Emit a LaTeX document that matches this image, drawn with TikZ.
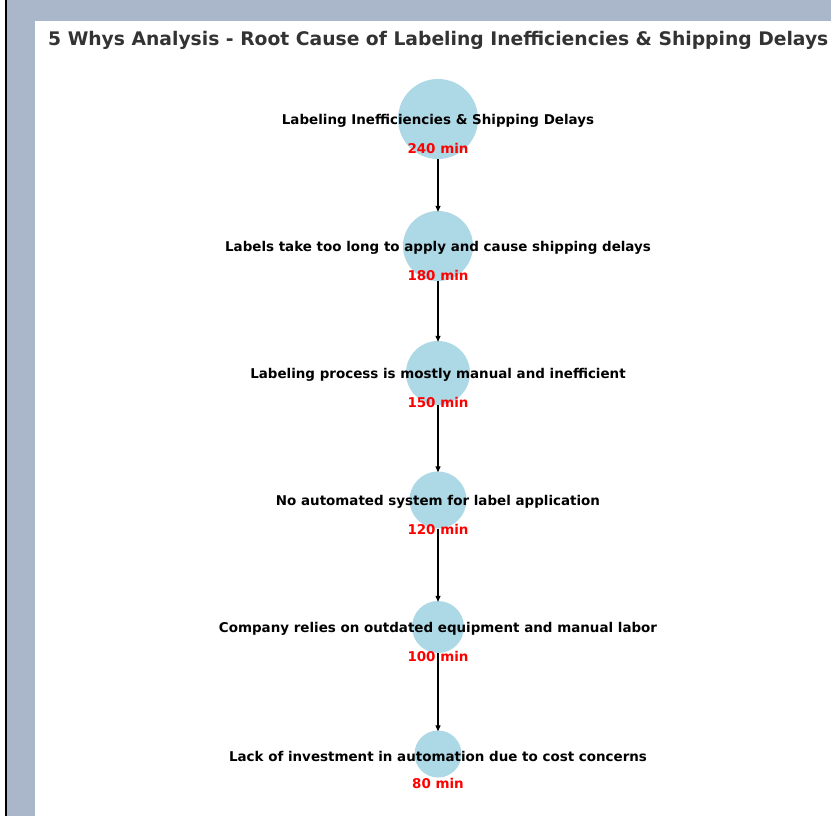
\documentclass[tikz,border=0pt]{standalone}
\usepackage{fontspec}
\setmainfont{DejaVu Sans}
\usetikzlibrary{positioning,arrows.meta}
\definecolor{frame}{RGB}{170,182,201}
\definecolor{titleink}{RGB}{51,51,51}
\definecolor{whyblue}{RGB}{173,216,230}
\definecolor{minred}{RGB}{255,0,0}
\tikzset{
  why/.style={circle, fill=whyblue, draw=none, inner sep=0pt},
  lbl/.style={font=\fontsize{13.5}{16}\selectfont\bfseries, text=black, inner sep=0pt},
  mins/.style={font=\fontsize{13.5}{16}\selectfont\bfseries, text=minred, inner sep=0pt},
  flow/.style={-{Triangle[length=6bp,width=5bp]}, line width=1.2bp, draw=black,
    shorten >=-1bp},
}
\begin{document}
\begin{tikzpicture}[x=1bp, y=-1bp]
  \useasboundingbox (0,0) rectangle (831,816);
  % background frame
  \fill[frame] (7,0) rectangle (831,816);
  \fill[white] (35,21) rectangle (831,816);
  \draw[line width=2.2bp, black] (6,0) -- (6,816);
  \node[anchor=west, text=titleink, font=\fontsize{18.8}{22}\selectfont\bfseries, inner sep=0pt]
       (title) at (48,40) {5 Whys Analysis - Root Cause of Labeling Inefficiencies \& Shipping Delays};
  % the five whys
  \node[why, minimum size=80bp] (w0) at (438,119) {};
  \node[why, minimum size=70bp] (w1) at (438,246) {};
  \node[why, minimum size=64bp] (w2) at (438,373) {};
  \node[why, minimum size=57bp] (w3) at (438,500) {};
  \node[why, minimum size=52bp] (w4) at (438,627) {};
  \node[why, minimum size=47bp] (w5) at (438,754) {};
  \draw[flow] (w0) -- (w1); \draw[flow] (w1) -- (w2); \draw[flow] (w2) -- (w3);
  \draw[flow] (w3) -- (w4); \draw[flow] (w4) -- (w5);
  \node[lbl] (l0) at (438,121) {Labeling Inefficiencies \& Shipping Delays};
  \node[lbl] (l1) at (438,248) {Labels take too long to apply and cause shipping delays};
  \node[lbl] (l2) at (438,375) {Labeling process is mostly manual and inefficient};
  \node[lbl] (l3) at (438,502) {No automated system for label application};
  \node[lbl] (l4) at (438,629) {Company relies on outdated equipment and manual labor};
  \node[lbl] (l5) at (438,756) {Lack of investment in automation due to cost concerns};
  \node[mins, below=27bp of l0.center, anchor=center] (m0) {240 min};
  \node[mins, below=27bp of l1.center, anchor=center] (m1) {180 min};
  \node[mins, below=27bp of l2.center, anchor=center] (m2) {150 min};
  \node[mins, below=27bp of l3.center, anchor=center] (m3) {120 min};
  \node[mins, below=27bp of l4.center, anchor=center] (m4) {100 min};
  \node[mins, below=27bp of l5.center, anchor=center] (m5) {80 min};
\end{tikzpicture}
\end{document}
